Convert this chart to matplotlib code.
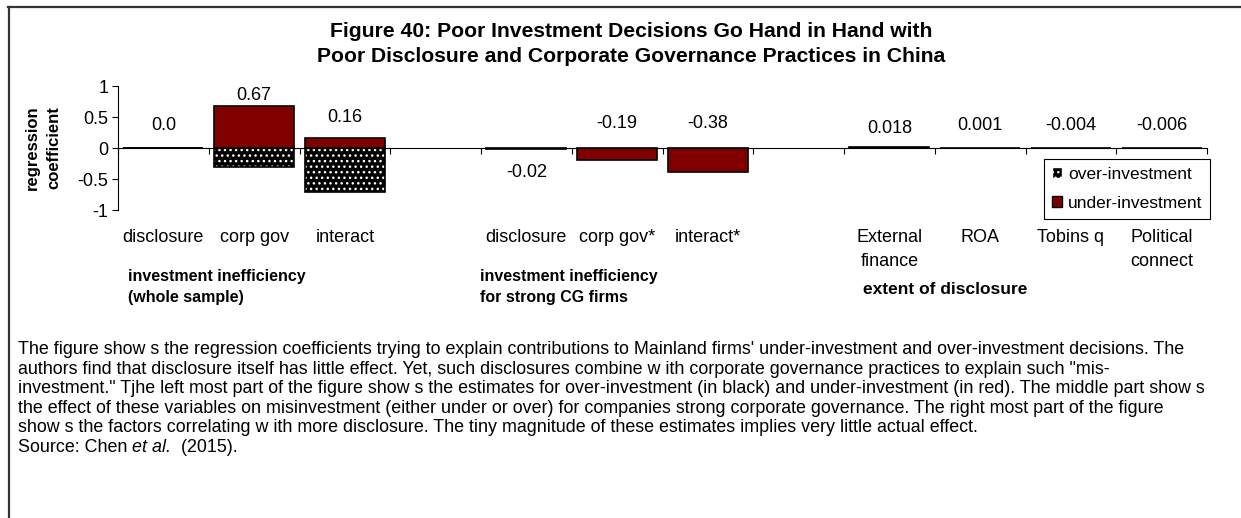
import matplotlib
matplotlib.use("Agg")
import matplotlib.pyplot as plt
import numpy as np
from matplotlib.patches import Patch
from matplotlib.lines import Line2D

plt.rcParams['font.family'] = ['Liberation Sans', 'DejaVu Sans']

# chart data (blank slots separate the three groups)
categories = ['disclosure', 'corp gov', 'interact', '',
              'disclosure', 'corp gov*', 'interact*', '',
              'External\nfinance', 'ROA', 'Tobins q', 'Political\nconnect']
over_investment = [0.0, -0.31, -0.71, np.nan,
                   np.nan, np.nan, np.nan, np.nan,
                   np.nan, np.nan, np.nan, np.nan]
under_investment = [0.0, 0.67, 0.16, np.nan,
                    -0.02, -0.19, -0.38, np.nan,
                    0.018, 0.001, -0.004, -0.006]
value_labels = ['0.0', '0.67', '0.16', '',
                '-0.02', '-0.19', '-0.38', '',
                '0.018', '0.001', '-0.004', '-0.006']
label_y = [0.37, 0.85, 0.50, 0, -0.40, 0.40, 0.40, 0, 0.32, 0.37, 0.37, 0.37]
group_labels = ['investment inefficiency\n(whole sample)',
                'investment inefficiency\nfor strong CG firms',
                'extent of disclosure']

W, H = 1241, 518
fig = plt.figure(figsize=(W / 100, H / 100), dpi=100)
ax = fig.add_axes([118 / W, 1 - 210 / H, 1089 / W, 124 / H])

x = np.arange(len(categories))
red = '#800000'
bw = 0.88
fs = 13

# over-investment: black with white dots
ax.bar(x, over_investment, bw, color='black', edgecolor='white', hatch='...', linewidth=0)
ax.bar(x, over_investment, bw, fill=False, edgecolor='black', linewidth=1.2)
ax.bar(x, under_investment, bw, color=red, edgecolor='black', linewidth=1.2)

for xi, txt, ly in zip(x, value_labels, label_y):
    if txt:
        ax.text(xi, ly, txt, ha='center', va='center', fontsize=fs)

ax.set_xlim(-0.5, len(categories) - 0.5)
ax.set_ylim(-1, 1)
ax.set_yticks([1, 0.5, 0, -0.5, -1])
ax.set_yticklabels(['1', '0.5', '0', '-0.5', '-1'], fontsize=fs)
ax.tick_params(axis='y', length=4, width=0.8, pad=3)

ax.spines['top'].set_visible(False)
ax.spines['right'].set_visible(False)
ax.spines['bottom'].set_position(('data', 0))
ax.spines['left'].set_linewidth(0.8)
ax.spines['bottom'].set_linewidth(0.8)
ax.set_xticks(np.arange(len(categories) + 1) - 0.5)
ax.set_xticklabels([])
ax.tick_params(axis='x', length=4, width=0.8, direction='out')

for xi, cat in zip(x, categories):
    if cat:
        ax.text(xi, -0.155, cat, transform=ax.get_xaxis_transform(),
                ha='center', va='top', fontsize=fs, linespacing=1.5)

ax.set_ylabel('regression\ncoefficient', fontsize=12, fontweight='bold',
              linespacing=1.55)
ax.yaxis.set_label_coords(-0.052, 0.5)

handles = [Patch(facecolor='black', edgecolor='white', hatch='...', label='over-investment'),
           Patch(facecolor=red, edgecolor='black', label='under-investment')]
leg = ax.legend(handles=handles, loc='upper right', bbox_to_anchor=(1.003, 0.411),
                fontsize=12.5, frameon=True, fancybox=False, edgecolor='black',
                framealpha=1, handlelength=0.6, handleheight=0.6, handletextpad=0.35,
                borderpad=0.45, labelspacing=0.8, borderaxespad=0)
leg.get_frame().set_linewidth(0.8)

# group labels
fig.text(128 / W, 1 - 287 / H, group_labels[0], ha='left', va='center',
         fontsize=11.5, fontweight='bold', linespacing=1.45)
fig.text(480 / W, 1 - 287 / H, group_labels[1], ha='left', va='center',
         fontsize=11.5, fontweight='bold', linespacing=1.45)
fig.text(863 / W, 1 - 289 / H, group_labels[2], ha='left', va='center',
         fontsize=12.5, fontweight='bold')

# title
fig.text(631 / W, 1 - 44 / H,
         'Figure 40: Poor Investment Decisions Go Hand in Hand with\n'
         'Poor Disclosure and Corporate Governance Practices in China',
         ha='center', va='center', fontsize=15.2, fontweight='bold', linespacing=1.4)

# caption
caption = [
    "The figure show s the regression coefficients trying to explain contributions to Mainland firms' under-investment and over-investment decisions. The",
    "authors find that disclosure itself has little effect. Yet, such disclosures combine w ith corporate governance practices to explain such \"mis-",
    "investment.\" Tjhe left most part of the figure show s the estimates for over-investment (in black) and under-investment (in red). The middle part show s",
    "the effect of these variables on misinvestment (either under or over) for companies strong corporate governance. The right most part of the figure",
    "show s the factors correlating w ith more disclosure. The tiny magnitude of these estimates implies very little actual effect.",
]
cfs = 12.9
y0 = 350
for i, line in enumerate(caption):
    fig.text(18 / W, 1 - (y0 + i * 19.4) / H, line, ha='left', va='center', fontsize=cfs)

ys = 1 - (y0 + 5 * 19.4) / H
renderer = fig.canvas.get_renderer()
t1 = fig.text(18 / W, ys, 'Source: Chen ', ha='left', va='center', fontsize=cfs)
x1 = t1.get_window_extent(renderer).x1 / W
t2 = fig.text(x1, ys, 'et al.', ha='left', va='center', fontsize=cfs, style='italic')
x2 = t2.get_window_extent(renderer).x1 / W
fig.text(x2, ys, '  (2015).', ha='left', va='center', fontsize=cfs)

# outer frame (top and left edges)
fig.add_artist(Line2D([8 / W, 1240 / W], [1 - 6.5 / H, 1 - 6.5 / H], color='#333333', linewidth=1.6))
fig.add_artist(Line2D([8.5 / W, 8.5 / W], [0, 1 - 6.5 / H], color='#333333', linewidth=1.6))

fig.savefig('out.png', dpi=100)
